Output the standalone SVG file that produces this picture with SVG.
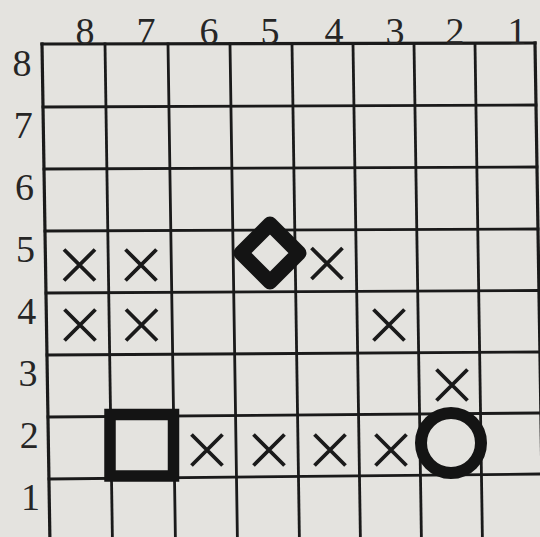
<svg xmlns="http://www.w3.org/2000/svg" xmlns:xlink="http://www.w3.org/1999/xlink" width="540" height="537" viewBox="0 0 540 537">
<style>
.bg{fill:#e4e3df}
.grid line{stroke:#1a1a1a;stroke-width:2.8;stroke-linecap:square}
.grid .edge{stroke-width:3.2}
.lbl{font-family:"Liberation Serif","Times New Roman",serif;font-size:38px;fill:#262626;text-anchor:middle}
.xm{stroke:#1a1a1a;stroke-width:3.8;fill:none}
.piece{stroke:#141414;fill:none}
</style>
<defs>
<path id="x" d="M-15.5,-15.5 L15.5,15.5 M15.5,-15.5 L-15.5,15.5"/>
</defs>
<rect class="bg" x="0" y="0" width="540" height="537"/>
<g id="board" class="grid">
<line class="edge" x1="42" y1="44" x2="50" y2="545"/>
<line x1="105" y1="44" x2="112.5" y2="545"/>
<line x1="168" y1="44" x2="175.5" y2="545"/>
<line x1="230" y1="44" x2="237.5" y2="545"/>
<line x1="292" y1="44" x2="299.5" y2="545"/>
<line x1="353" y1="44" x2="360.5" y2="545"/>
<line x1="414" y1="43.5" x2="421.5" y2="545"/>
<line x1="475" y1="43.5" x2="482.5" y2="545"/>
<line class="edge" x1="535" y1="43" x2="543" y2="545"/>
<line class="edge" x1="42" y1="44" x2="535" y2="43"/>
<line x1="43" y1="107" x2="536" y2="105"/>
<line x1="44" y1="169" x2="537" y2="167"/>
<line x1="45" y1="231" x2="538" y2="229"/>
<line x1="46" y1="293" x2="539" y2="290.5"/>
<line x1="47" y1="355" x2="540" y2="352"/>
<line x1="48" y1="417" x2="541" y2="413"/>
<line x1="49" y1="479" x2="542" y2="474"/>
</g>
<g id="col-labels" class="lbl">
<text x="85" y="44">8</text>
<text x="146" y="44">7</text>
<text x="209" y="44">6</text>
<text x="270" y="44">5</text>
<text x="334" y="44">4</text>
<text x="395" y="44">3</text>
<text x="455" y="44">2</text>
<text x="517" y="44">1</text>
</g>
<g id="row-labels" class="lbl">
<text x="22" y="76">8</text>
<text x="23.2" y="138">7</text>
<text x="24.4" y="200">6</text>
<text x="25.6" y="262">5</text>
<text x="26.8" y="324">4</text>
<text x="28" y="386">3</text>
<text x="29.2" y="448">2</text>
<text x="30.4" y="510">1</text>
</g>
<g id="marks" class="xm">
<use id="x-85" xlink:href="#x" x="79.5" y="265"/>
<use id="x-75" xlink:href="#x" x="141" y="265"/>
<use id="x-45" xlink:href="#x" x="327" y="263.5"/>
<use id="x-84" xlink:href="#x" x="80" y="325"/>
<use id="x-74" xlink:href="#x" x="141.5" y="325"/>
<use id="x-34" xlink:href="#x" x="389" y="325"/>
<use id="x-23" xlink:href="#x" x="452" y="385"/>
<use id="x-62" xlink:href="#x" x="207" y="450"/>
<use id="x-52" xlink:href="#x" x="269" y="450"/>
<use id="x-42" xlink:href="#x" x="330" y="450"/>
<use id="x-32" xlink:href="#x" x="391" y="450"/>
</g>
<g id="diamond-55">
<polygon class="piece" points="270,224 299,253 270,282 241,253" stroke-width="15" stroke-linejoin="round"/>
</g>
<g id="square-72">
<rect class="piece" x="110" y="414.5" width="63.5" height="61.5" stroke-width="11.5"/>
</g>
<g id="circle-22">
<circle class="piece" cx="451" cy="443" r="30" stroke-width="12"/>
</g>
</svg>
